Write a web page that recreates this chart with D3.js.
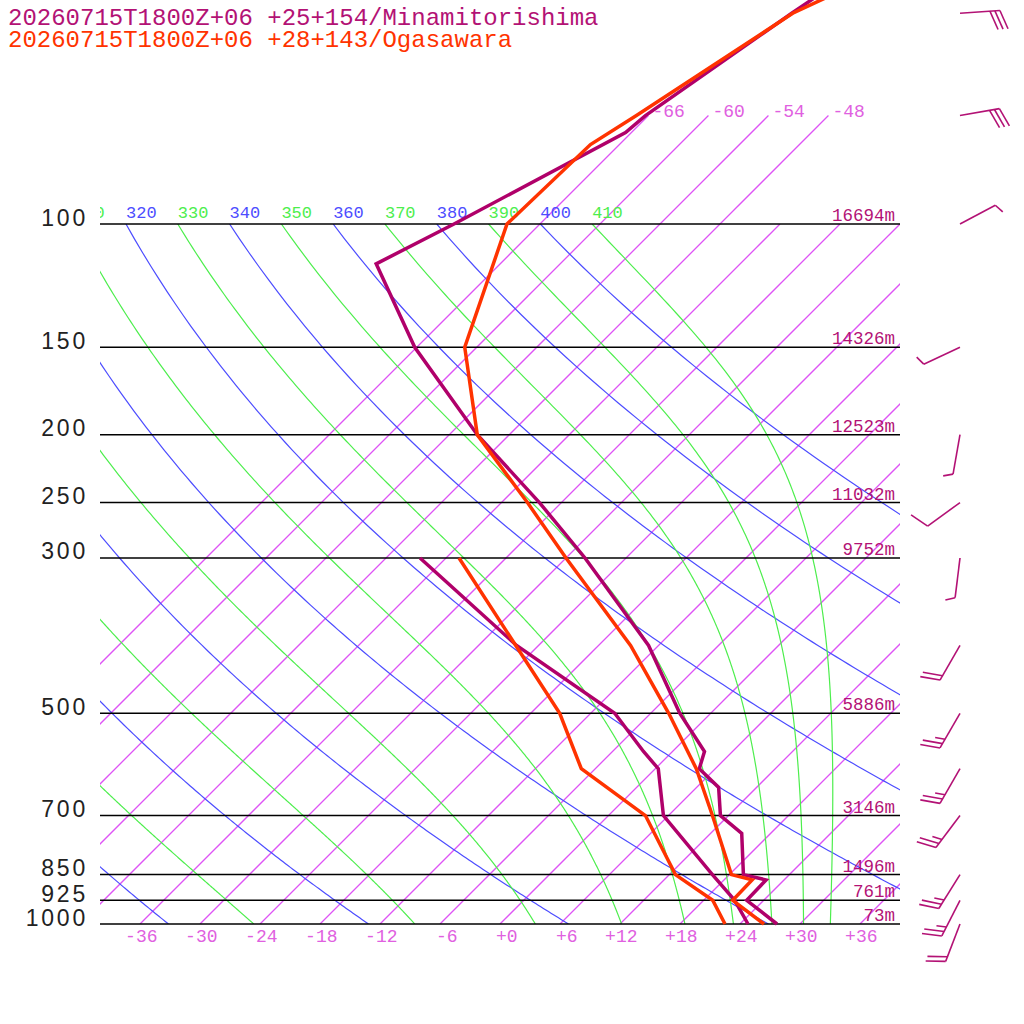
<!DOCTYPE html>
<html>
<head>
<meta charset="utf-8">
<script src="https://cdn.jsdelivr.net/npm/d3@7"></script>
<style>
html, body { margin: 0; padding: 0; background: #fff; }
svg { display: block; }
</style>
</head>
<body>
<div id="chart"></div>
<script>
// --- data ---------------------------------------------------------------
const titles = ["20260715T1800Z+06 +25+154/Minamitorishima", "20260715T1800Z+06 +28+143/Ogasawara"];

const lineLevels = [100, 150, 200, 250, 300, 500, 700, 850, 925, 1000];
const heightLabels = ["16694m", "14326m", "12523m", "11032m", "9752m", "5886m", "3146m", "1496m", "761m", "73m"];

const bottomTicks = [-36, -30, -24, -18, -12, -6, 0, 6, 12, 18, 24, 30, 36];
const topTicks = [-66, -60, -54, -48];
const isotherms = [-66, -60, -54, -48, -42, -36, -30, -24, -18, -12, -6, 0, 6, 12, 18, 24, 30, 36];
const dryThetas = [240, 260, 280, 300, 320, 340, 360, 380, 400];
const moistThetas = [250, 270, 290, 310, 330, 350, 370, 390, 410];
const thetaLabels = [310, 320, 330, 340, 350, 360, 370, 380, 390, 400, 410];

// Minamitorishima
const mTempPres = [1000, 925, 865, 850, 742, 700, 638, 600, 567, 500, 400, 300, 250, 200, 150, 114, 100, 74, 70, 50, 40];
const mTemp = [27.7, 22.3, 22.2, 19.4, 15.1, 11.2, 8.2, 4.4, 3.2, -3.1, -13.0, -28.1, -38.2, -51.2, -66.2, -78.4, -74.6, -66.6, -66.3, -61.9, -58.7];
const mDewPres = [1000, 925, 850, 700, 600, 567, 500, 400, 300];
const mDew = [24.8, 21.1, 16.3, 5.5, 0.3, -2.9, -9.6, -26.2, -44.6];

// Ogasawara
const oTempPres = [1000, 925, 865, 850, 700, 600, 500, 400, 300, 250, 200, 150, 100, 77, 70, 50, 40];
const oTemp = [26.4, 20.9, 20.8, 18.2, 10.4, 4.1, -4.2, -14.8, -30.0, -39.4, -51.2, -61.2, -69.3, -68.9, -67.2, -61.8, -54.1];
const oDewPres = [1000, 925, 850, 700, 600, 500, 300];
const oDew = [22.5, 18.9, 12.6, 3.7, -7.4, -15.1, -40.7];

// winds (Minamitorishima), direction in degrees, speed in knots
const windPres = [50, 70, 100, 150, 200, 250, 300, 400, 500, 600, 700, 850, 925, 1000];
const windDir = [86, 80, 62, 245, 190, 234, 187, 210, 210, 210, 217, 212, 207, 201];
const windSpd = [30, 30, 5, 5, 5, 10, 5, 20, 25, 25, 25, 25, 25, 20];

// --- colours ------------------------------------------------------------
const mLine = "#b0006a", mText = "#b31275";
const oLine = "#ff3300";
const isoStroke = "rgb(222,84,245)", isoText = "#e060e0";
const blue = "#4d4dff", green = "#4dee4d";

// --- scales -------------------------------------------------------------
const y = d3.scaleLog().domain([1000, 100]).range([924, 224]);
const xT = d3.scaleLinear().domain([-40, 40]).range([100, 900]);
const X = (t, p) => xT(t) + (y(1000) - y(p));   // 45 degree skew

const svg = d3.select("#chart").append("svg")
    .attr("width", 1024)
    .attr("height", 1024);

const defs = svg.append("defs");
defs.append("clipPath").attr("id", "clipMain").append("rect")
    .attr("x", 100).attr("y", 224).attr("width", 800).attr("height", 700);
defs.append("clipPath").attr("id", "clipTop").append("rect")
    .attr("x", 100).attr("y", 100).attr("width", 800).attr("height", 824);
defs.append("clipPath").attr("id", "clipLab").append("rect")
    .attr("x", 100).attr("y", 190).attr("width", 800).attr("height", 34);

// --- thermodynamics for the adiabats -----------------------------------
const Rd = 287.04, Cp = 1005.7, Lv = 2.501e6, eps = 0.622;
function satMix(Tk, p) {
    const es = 6.112 * Math.exp(17.67 * (Tk - 273.15) / (Tk - 29.65));
    return eps * es / (p - es);
}
function dTdp(Tk, p) {
    const rs = satMix(Tk, p);
    return (Rd * Tk + Lv * rs) / (p * (Cp + Lv * Lv * rs * eps / (Rd * Tk * Tk)));
}
function moistAdiabat(theta) {
    let p = 100, Tk = theta * Math.pow(0.1, 0.2857);
    const pts = [{p: p, t: Tk - 273.15}];
    const h = 2;
    while (p < 1000) {
        const k1 = dTdp(Tk, p);
        const k2 = dTdp(Tk + h / 2 * k1, p + h / 2);
        const k3 = dTdp(Tk + h / 2 * k2, p + h / 2);
        const k4 = dTdp(Tk + h * k3, p + h);
        Tk += h / 6 * (k1 + 2 * k2 + 2 * k3 + k4);
        p += h;
        pts.push({p: p, t: Tk - 273.15});
    }
    return pts;
}
function dryAdiabat(theta) {
    return d3.range(100, 1001, 5).map(p => ({p: p, t: theta * Math.pow(p / 1000, 0.2857) - 273.15}));
}

const lineGen = d3.line().x(d => X(d.t, d.p)).y(d => y(d.p));

// --- isotherms ----------------------------------------------------------
const isoG = svg.append("g");
isoG.selectAll("line").data(isotherms).join("line")
    .attr("x1", t => X(t, 1000))
    .attr("y1", y(1000))
    .attr("x2", t => X(t, topTicks.includes(t) ? 70 : 100))
    .attr("y2", t => y(topTicks.includes(t) ? 70 : 100))
    .attr("clip-path", t => topTicks.includes(t) ? "url(#clipTop)" : "url(#clipMain)")
    .attr("stroke", isoStroke)
    .attr("stroke-width", 1.3);
isoG.selectAll("text").data(topTicks).join("text")
    .attr("x", d => X(d, 70) + 4)
    .attr("y", y(70) + 1)
    .attr("font-family", "Liberation Mono, monospace")
    .attr("font-size", 18)
    .attr("fill", isoText)
    .text(d => "" + d);

// --- dry and moist adiabats --------------------------------------------
const adG = svg.append("g").attr("clip-path", "url(#clipMain)");
adG.selectAll("path.dry").data(dryThetas).join("path")
    .attr("class", "dry")
    .attr("d", th => lineGen(dryAdiabat(th)))
    .attr("fill", "none").attr("stroke", blue).attr("stroke-width", 1.2);
adG.selectAll("path.moist").data(moistThetas).join("path")
    .attr("class", "moist")
    .attr("d", th => lineGen(moistAdiabat(th)))
    .attr("fill", "none").attr("stroke", green).attr("stroke-width", 1.2);
svg.append("g").attr("clip-path", "url(#clipLab)")
    .selectAll("text").data(thetaLabels).join("text")
    .attr("x", d => X(d * Math.pow(0.1, 0.2857) - 273.15, 100))
    .attr("y", 218)
    .attr("font-family", "Liberation Mono, monospace")
    .attr("font-size", 17)
    .attr("fill", d => (d / 10) % 2 === 0 ? blue : green)
    .text(d => d);

// --- pressure lines -----------------------------------------------------
svg.append("g").selectAll("line").data(lineLevels).join("line")
    .attr("x1", 100).attr("x2", 900)
    .attr("y1", d => y(d)).attr("y2", d => y(d))
    .attr("stroke", "#000")
    .attr("stroke-width", 1.5);

const yAxis = svg.append("g")
    .attr("transform", "translate(100,0)")
    .call(d3.axisLeft(y).tickValues(lineLevels).tickSize(0).tickPadding(12).tickFormat(d3.format("d")));
yAxis.select(".domain").remove();
yAxis.selectAll("text")
    .attr("dy", 0)
    .attr("y", 1)
    .attr("font-family", "Liberation Sans, Arial, sans-serif")
    .attr("font-size", 23)
    .attr("letter-spacing", 2.8)
    .attr("fill", "#222");

const xAxis = svg.append("g")
    .attr("transform", "translate(0,924)")
    .call(d3.axisBottom(xT).tickValues(bottomTicks).tickSize(0).tickPadding(0)
        .tickFormat(d => (d < 0 ? "-" : "+") + Math.abs(d)));
xAxis.select(".domain").remove();
xAxis.selectAll("text")
    .attr("dy", 0)
    .attr("y", 18)
    .attr("x", 17)
    .attr("text-anchor", "end")
    .attr("font-family", "Liberation Mono, monospace")
    .attr("font-size", 18)
    .attr("fill", isoText);

svg.append("g").selectAll("text").data(lineLevels).join("text")
    .attr("x", 895)
    .attr("y", d => y(d) - 3)
    .attr("text-anchor", "end")
    .attr("font-family", "Liberation Mono, monospace")
    .attr("font-size", 17.5)
    .attr("fill", mText)
    .text((d, i) => heightLabels[i]);

// --- profiles -----------------------------------------------------------
function profile(pres, vals, colour) {
    const pts = pres.map((p, i) => ({p: p, t: vals[i]}));
    svg.append("path")
        .attr("d", lineGen(pts))
        .attr("fill", "none")
        .attr("stroke", colour)
        .attr("stroke-width", 3.5);
}
profile(mDewPres, mDew, mLine);
profile(mTempPres, mTemp, mLine);
profile(oDewPres, oDew, oLine);
profile(oTempPres, oTemp, oLine);

// --- wind barbs ---------------------------------------------------------
const barbG = svg.append("g")
    .attr("stroke", mText)
    .attr("stroke-width", 1.6)
    .attr("fill", "none");
function barb(x0, y0, dir, spd) {
    const a = dir * Math.PI / 180;
    const u = [Math.sin(a), -Math.cos(a)];
    const L = 40, rot = 70 * Math.PI / 180;
    const f = [u[0] * Math.cos(rot) - u[1] * Math.sin(rot), u[0] * Math.sin(rot) + u[1] * Math.cos(rot)];
    const tail = [x0 + L * u[0], y0 + L * u[1]];
    barbG.append("line").attr("x1", x0).attr("y1", y0).attr("x2", tail[0]).attr("y2", tail[1]);
    let pos = 0;
    const full = Math.floor(spd / 10), half = Math.round((spd % 10) / 5);
    const feathers = d3.range(full).map(() => 20).concat(d3.range(half).map(() => 10));
    feathers.forEach(len => {
        const s = [tail[0] - pos * u[0], tail[1] - pos * u[1]];
        barbG.append("line")
            .attr("x1", s[0]).attr("y1", s[1])
            .attr("x2", s[0] + len * f[0]).attr("y2", s[1] + len * f[1]);
        pos += 5;
    });
}
windPres.forEach((p, i) => barb(960, y(p), windDir[i], windSpd[i]));

// --- titles -------------------------------------------------------------
svg.append("g").selectAll("text").data(titles).join("text")
    .attr("x", 8)
    .attr("y", (d, i) => 25 + i * 22)
    .attr("font-family", "Liberation Mono, monospace")
    .attr("font-size", 24)
    .attr("fill", (d, i) => i === 0 ? mText : oLine)
    .text(d => d);
</script>
</body>
</html>
